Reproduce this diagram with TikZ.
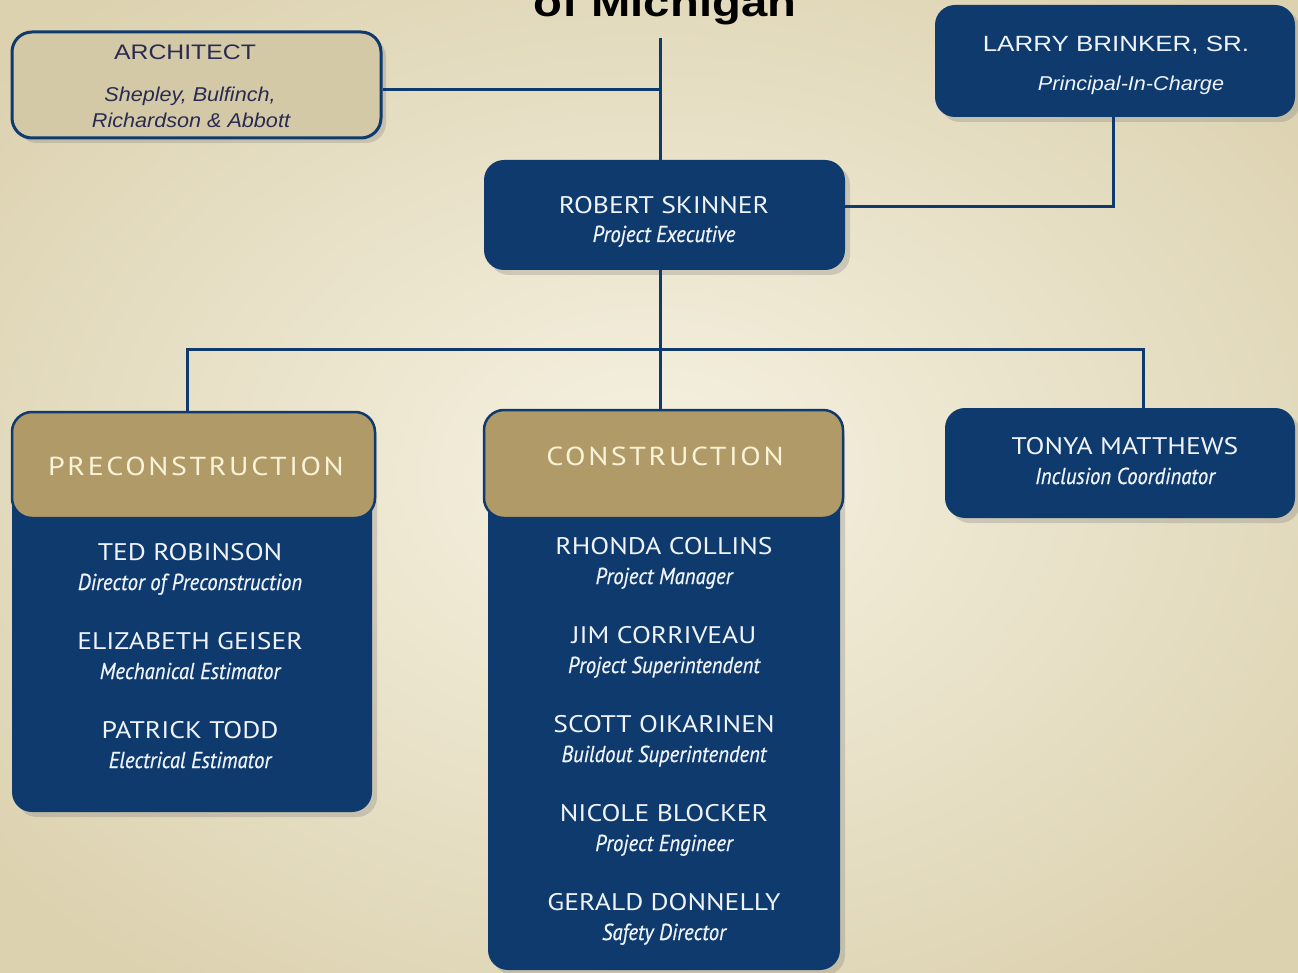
\documentclass[tikz,border=0pt]{standalone}
\usepackage{fontspec}
\setmainfont{PT Sans}
\newfontfamily\arialf[FakeStretch=1.18]{Liberation Sans}
\newfontfamily\arialif[FakeStretch=1.08]{Liberation Sans}
\newfontfamily\namef[FakeStretch=1.15]{PT Sans}
\newfontfamily\headf[FakeStretch=1.15,LetterSpace=10]{PT Sans}
\newfontfamily\rolef[FakeStretch=0.9,FakeBold=0.6]{PT Sans}
\usetikzlibrary{shadows}
\definecolor{navy}{RGB}{14,58,110}
\definecolor{tanhead}{RGB}{176,155,104}
\definecolor{archfill}{RGB}{212,201,166}
\definecolor{archtext}{RGB}{42,42,82}
\definecolor{headtext}{RGB}{250,243,215}
\definecolor{nametext}{RGB}{240,244,250}
\definecolor{bgin}{RGB}{246,242,226}
\definecolor{bgout}{RGB}{220,210,176}
\begin{document}
\begin{tikzpicture}[x=1pt,y=-1pt,
  shad/.style={drop shadow={opacity=0.3, shadow xshift=5pt, shadow yshift=-5pt}},
  box/.style={rounded corners=20pt, fill=navy, inner sep=0pt, shad},
  headbox/.style={rounded corners=20pt, fill=tanhead, draw=navy, line width=2.5pt, inner sep=0pt},
  archbox/.style={rounded corners=20pt, fill=archfill, draw=navy, line width=3pt, inner sep=0pt, shad},
  nm/.style={anchor=base, text=nametext, font=\namef\fontsize{24}{27}\selectfont, inner sep=0pt},
  rl/.style={anchor=base, text=nametext, font=\rolef\itshape\fontsize{23}{26}\selectfont, inner sep=0pt},
  hd/.style={anchor=base, text=headtext, font=\headf\fontsize{26}{30}\selectfont, inner sep=0pt},
  ar/.style={anchor=base, font=\arialf\fontsize{21}{25}\selectfont, inner sep=0pt},
  ari/.style={anchor=base, font=\arialif\itshape\fontsize{20}{24}\selectfont, inner sep=0pt},
  conn/.style={draw=navy, line width=3pt}]
\clip (0,0) rectangle (1298,973);
\useasboundingbox (0,0) rectangle (1298,973);
\shade[inner color=bgin, outer color=bgout] (-200,-150) rectangle (1500,1100);

% title
\node[anchor=base, font=\arialf\bfseries\fontsize{40}{44}\selectfont, text=black, inner sep=0pt] (title) at (665,17) {of Michigan};

% coordinates for connectors
\coordinate (top) at (660,38);
\coordinate (busL) at (187,350);
\coordinate (busM) at (660,350);
\coordinate (busR) at (1143,350);

% boxes
\node[archbox, minimum width=369pt, minimum height=106pt] (arch) at (196.5,85) {};
\node[box, minimum width=360pt, minimum height=112pt] (larry) at (1115,61) {};
\node[box, minimum width=361pt, minimum height=110pt] (robert) at (664.5,215) {};
\node[box, minimum width=350pt, minimum height=110pt] (tonya) at (1120,463) {};
\node[box, minimum width=360pt, minimum height=400pt] (prebody) at (192,612) {};
\node[headbox, minimum width=363pt, minimum height=106pt] (prehead) at (193.5,465) {};
\node[box, minimum width=352pt, minimum height=555pt] (conbody) at (664,692.5) {};
\node[headbox, minimum width=359pt, minimum height=108pt] (conhead) at (663.5,464) {};

% connectors
\draw[conn] (top) -- (top |- robert.north);
\draw[conn] (arch.east |- 0,90) -- (top |- 0,90);
\draw[conn] ([xshift=-2pt]larry.south) |- ([yshift=8pt]robert.east);
\draw[conn] (busM |- robert.south) -- (busM |- conhead.north);
\draw[conn] (busL |- prehead.north) -- (busL) -- (busR) -- (busR |- tonya.north);

% architect text
\node[ar, text=archtext] (archt) at (185,60) {ARCHITECT};
\node[ari, text=archtext] (arch1) at (190,101.5) {Shepley, Bulfinch,};
\node[ari, text=archtext] (arch2) at (191,127.5) {Richardson \& Abbott};

% larry text
\node[ar, text=nametext, font=\arialf\fontsize{22}{26}\selectfont] (larryn) at (1116,52) {LARRY BRINKER, SR.};
\node[ari, text=nametext] (larryr) at (1131,91) {Principal-In-Charge};

% robert text
\node[nm] (robn) at (664,214) {ROBERT SKINNER};
\node[rl] (robr) at (664,242) {Project Executive};

% tonya text
\node[nm] (tonn) at (1125,454) {TONYA MATTHEWS};
\node[rl] (tonr) at (1125,484) {Inclusion Coordinator};

% headings
\node[hd] (pret) at (196,475) {PRECONSTRUCTION};
\node[hd] (cont) at (665,465) {CONSTRUCTION};

% preconstruction staff
\node[nm] (p1n) at (190,560) {TED ROBINSON};
\node[rl] (p1r) at (190,590) {Director of Preconstruction};
\node[nm] (p2n) at (190,649) {ELIZABETH GEISER};
\node[rl] (p2r) at (190,679) {Mechanical Estimator};
\node[nm] (p3n) at (190,738) {PATRICK TODD};
\node[rl] (p3r) at (190,768) {Electrical Estimator};

% construction staff
\node[nm] (c1n) at (664,554) {RHONDA COLLINS};
\node[rl] (c1r) at (664,584) {Project Manager};
\node[nm] (c2n) at (664,643) {JIM CORRIVEAU};
\node[rl] (c2r) at (664,673) {Project Superintendent};
\node[nm] (c3n) at (664,732) {SCOTT OIKARINEN};
\node[rl] (c3r) at (664,762) {Buildout Superintendent};
\node[nm] (c4n) at (664,821) {NICOLE BLOCKER};
\node[rl] (c4r) at (664,851) {Project Engineer};
\node[nm] (c5n) at (664,910) {GERALD DONNELLY};
\node[rl] (c5r) at (664,940) {Safety Director};
\end{tikzpicture}
\end{document}
